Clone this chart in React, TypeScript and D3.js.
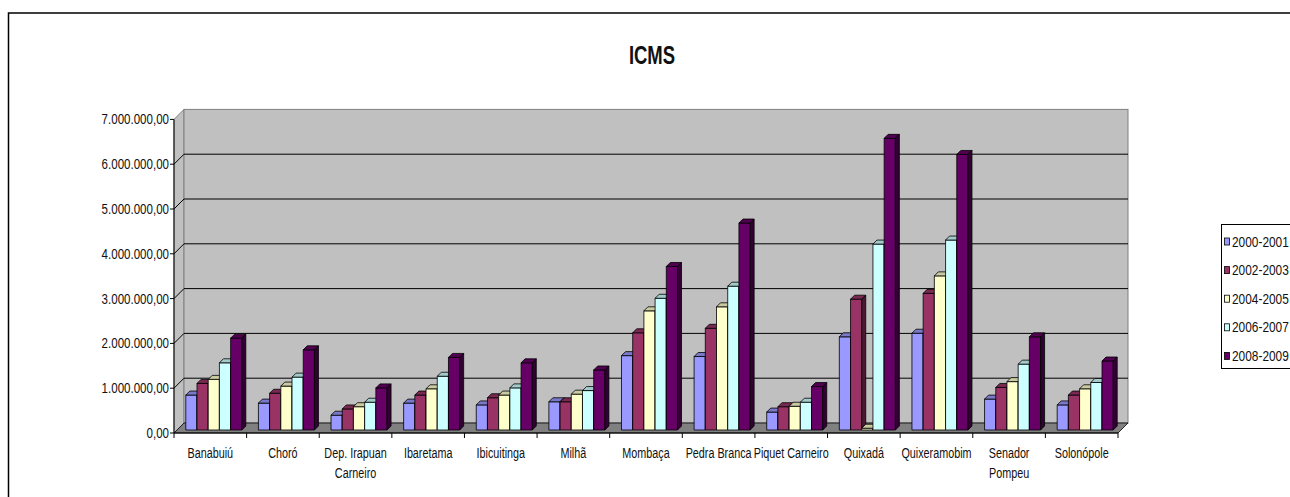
import React from 'react';
import * as d3 from 'd3';

// dados (ICMS por município)
const categories = ['Banabuiú', 'Choró', 'Dep. Irapuan Carneiro', 'Ibaretama', 'Ibicuitinga', 'Milhã', 'Mombaça', 'Pedra Branca', 'Piquet Carneiro', 'Quixadá', 'Quixeramobim', 'Senador Pompeu', 'Solonópole'];
const categoryLines = [['Banabuiú'], ['Choró'], ['Dep. Irapuan', 'Carneiro'], ['Ibaretama'], ['Ibicuitinga'], ['Milhã'], ['Mombaça'], ['Pedra Branca'], ['Piquet Carneiro'], ['Quixadá'], ['Quixeramobim'], ['Senador', 'Pompeu'], ['Solonópole']];
const seriesNames = ['2000-2001', '2002-2003', '2004-2005', '2006-2007', '2008-2009'];
const s2000 = [780000, 600000, 330000, 600000, 560000, 630000, 1660000, 1640000, 400000, 2080000, 2160000, 690000, 560000];
const s2002 = [1040000, 820000, 470000, 780000, 720000, 630000, 2170000, 2270000, 520000, 2920000, 3050000, 950000, 780000];
const s2004 = [1130000, 980000, 520000, 920000, 780000, 800000, 2660000, 2750000, 530000, 40000, 3440000, 1080000, 920000];
const s2006 = [1500000, 1180000, 620000, 1200000, 940000, 880000, 2940000, 3210000, 620000, 4150000, 4240000, 1470000, 1060000];
const s2008 = [2050000, 1790000, 940000, 1620000, 1500000, 1340000, 3650000, 4620000, 970000, 6510000, 6150000, 2080000, 1540000];
const seriesColors = ['#9999FF', '#993366', '#FFFFCC', '#CCFFFF', '#660066'];
const yTicks = [0, 1000000, 2000000, 3000000, 4000000, 5000000, 6000000, 7000000];

const allSeries = [s2000, s2002, s2004, s2006, s2008];

const W = 1290;
const H = 497;
const FONT = '"Liberation Sans", Arial, sans-serif';
const SQ = 0.72; // texto comprimido na horizontal como no original

const left = 174;
const right = 1118;
const bottom = 433;
const top = 119.4;
const wallDx = 10;
const wallDy = -10;
const barOx = 3.5;
const barOy = -3;
const barDx = 4;
const barDy = -4;

const ptBR = d3.formatLocale({ decimal: ',', thousands: '.', grouping: [3], currency: ['', ''] });
const fmt = ptBR.format(',.2f');

const Txt = ({ x, y, anchor = 'start', size = 15, weight = 'normal', sx = SQ, children }: any) => (
  <text
    transform={`translate(${x},${y}) scale(${sx},1)`}
    textAnchor={anchor}
    fontFamily={FONT}
    fontSize={size}
    fontWeight={weight}
    fill="#111"
  >
    {children}
  </text>
);

const pts = (p: number[][]) => p.map((d) => d.join(',')).join(' ');

export default function App() {
  const y = d3.scaleLinear().domain([0, 7000000]).range([bottom, top]);
  const x0 = d3.scaleBand<string>().domain(categories).range([left, right]).padding(0);
  const x1 = d3.scaleBand<string>().domain(seriesNames).range([0, x0.bandwidth()]).paddingInner(0).paddingOuter(0.74);

  const shade = (c: string, k: number) => d3.color(c)!.darker(k).formatHex();

  return (
    <svg width={W} height={H} style={{ position: 'absolute', left: 0, top: 0, background: '#fff' }}>
      {/* borda da área do gráfico */}
      <path d={`M8.5,${H + 2} L8.5,13 L${W + 2},13`} fill="none" stroke="#000" strokeWidth={1.5} />

      <Txt x={652} y={64} anchor="middle" size={25} weight="bold" sx={0.74}>ICMS</Txt>

      {/* paredes */}
      <polygon
        points={pts([[left, bottom], [left, top], [left + wallDx, top + wallDy], [left + wallDx, bottom + wallDy]])}
        fill="#C0C0C0" stroke="#808080" strokeWidth={1}
      />
      <rect
        x={left + wallDx} y={top + wallDy} width={right - left} height={bottom - top}
        fill="#C0C0C0" stroke="#808080" strokeWidth={1}
      />
      <polygon
        points={pts([[left, bottom], [right, bottom], [right + wallDx, bottom + wallDy], [left + wallDx, bottom + wallDy]])}
        fill="#808080" stroke="#000" strokeWidth={0.8}
      />

      {/* linhas de grade */}
      {yTicks.filter((t) => t > 0 && t < 7000000).map((t) => (
        <g key={t}>
          <line x1={left} x2={left + wallDx} y1={y(t)} y2={y(t) + wallDy} stroke="#000" strokeWidth={1} />
          <line x1={left + wallDx} x2={right + wallDx} y1={y(t) + wallDy} y2={y(t) + wallDy} stroke="#000" strokeWidth={1} />
        </g>
      ))}

      {/* eixos */}
      <line x1={left} x2={left} y1={top} y2={bottom} stroke="#000" strokeWidth={1} />
      <line x1={left} x2={right} y1={bottom} y2={bottom} stroke="#000" strokeWidth={1} />
      {yTicks.map((t) => (
        <g key={t}>
          <line x1={left - 4} x2={left} y1={y(t)} y2={y(t)} stroke="#000" strokeWidth={1} />
          <Txt x={left - 5} y={y(t) + 5} anchor="end" sx={0.77}>{fmt(t)}</Txt>
        </g>
      ))}
      {categories.map((c) => (
        <line key={c} x1={x0(c)! + x0.bandwidth()} x2={x0(c)! + x0.bandwidth()} y1={bottom} y2={bottom + 5} stroke="#000" strokeWidth={1} />
      ))}
      <line x1={left} x2={left} y1={bottom} y2={bottom + 5} stroke="#000" strokeWidth={1} />

      {/* barras 3D */}
      {categories.map((c, ci) => (
        <g key={c}>
          {seriesNames.map((s, si) => {
            const v = allSeries[si][ci];
            const bx = x0(c)! + x1(s)! + barOx;
            const bw = x1.bandwidth();
            const yt = y(v) + barOy;
            const yb = y(0) + barOy;
            const col = seriesColors[si];
            return (
              <g key={s} stroke="#000" strokeWidth={0.8} strokeLinejoin="round">
                <rect x={bx} y={yt} width={bw} height={yb - yt} fill={col} />
                <polygon points={pts([[bx, yt], [bx + barDx, yt + barDy], [bx + bw + barDx, yt + barDy], [bx + bw, yt]])} fill={shade(col, 0.65)} />
                <polygon points={pts([[bx + bw, yt], [bx + bw + barDx, yt + barDy], [bx + bw + barDx, yb + barDy], [bx + bw, yb]])} fill={shade(col, 2)} />
              </g>
            );
          })}
        </g>
      ))}

      {/* rótulos das categorias */}
      {categoryLines.map((lines, ci) => (
        <g key={ci}>
          {lines.map((l, li) => (
            <Txt key={li} x={x0(categories[ci])! + x0.bandwidth() / 2} y={458 + li * 20} anchor="middle">{l}</Txt>
          ))}
        </g>
      ))}

      {/* legenda */}
      <rect x={1221.5} y={224.5} width={80} height={144} fill="#fff" stroke="#000" strokeWidth={1} />
      {seriesNames.map((s, i) => (
        <g key={s}>
          <rect x={1224.5} y={238 + i * 28.6} width={5} height={7} fill={seriesColors[i]} stroke="#000" strokeWidth={0.8} />
          <Txt x={1232} y={246.5 + i * 28.6} size={14.5} sx={0.82}>{s}</Txt>
        </g>
      ))}
    </svg>
  );
}
